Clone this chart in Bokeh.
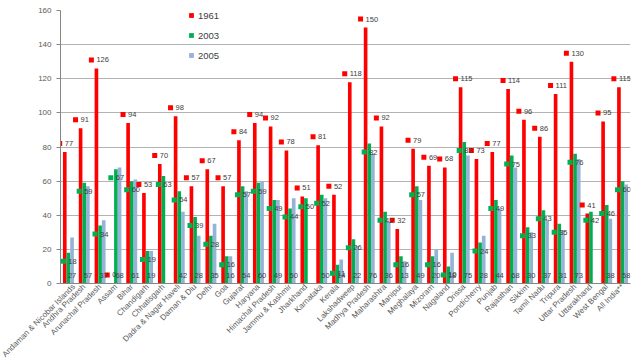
from bokeh.plotting import figure
from bokeh.models import ColumnDataSource, Legend, LegendItem, SingleIntervalTicker, Range1d
from bokeh.transform import dodge
from bokeh.core.properties import value
from bokeh.embed import file_html
from bokeh.resources import INLINE
import math

states = ["Andaman & Nicobar Islands", "Andhra Pradesh", "Arunachal Pradesh", "Assam", "Bihar",
          "Chandigarh", "Chhatisgarh", "Dadra & Nagar Haveli", "Daman & Diu", "Delhi", "Goa",
          "Gujarat", "Haryana", "Himachal Pradesh", "Jammu & Kashmir", "Jharkhand", "Karnataka",
          "Kerala", "Lakshadweep", "Madhya Pradesh", "Maharashtra", "Manipur", "Meghalaya",
          "Mizoram", "Nagaland", "Orissa", "Pondicherry", "Punjab", "Rajasthan", "Sikkim",
          "Tamil Nadu", "Tripura", "Uttar Pradesh", "Uttarakhand", "West Bengal", "All India**"]
v1961 = [77, 91, 126, 0, 94, 53, 70, 98, 57, 67, 57, 84, 94, 92, 78, 51, 81, 52, 118, 150, 92, 32,
         79, 69, 68, 115, 73, 77, 114, 96, 86, 111, 130, 41, 95, 115]
v2003 = [18, 59, 34, 67, 60, 19, 63, 54, 39, 28, 16, 57, 59, 49, 44, 50, 52, 11, 26, 82, 42, 16,
         57, 16, 10, 83, 24, 49, 75, 33, 43, 35, 76, 42, 46, 60]
v2005 = [27, 57, 37, 68, 61, 19, 0, 42, 28, 35, 16, 54, 60, 49, 50, 0, 50, 14, 22, 76, 36, 13,
         49, 20, 18, 75, 28, 44, 68, 30, 37, 31, 73, 0, 38, 58]
years = ["1961", "2003", "2005"]
colors = ["#FF0000", "#00B050", "#95B3D7"]

FONT = "Liberation Sans"

src = ColumnDataSource(dict(
    cat=states, v1961=v1961, v2003=v2003, v2005=v2005,
    y1961=[v + 5 for v in v1961], y2003=[v - 5 for v in v2003],
    t1961=[str(v) for v in v1961], t2003=[str(v) for v in v2003],
    t2005=[str(v) if v else "" for v in v2005],
    zero=[0] * len(states),
))

p = figure(x_range=states, y_range=Range1d(0, 160), width=640, height=364,
           output_backend="svg", toolbar_location=None,
           min_border_left=60, min_border_top=10, min_border_right=10, min_border_bottom=80)

bw = 0.23
rs = []
for i, (yr, col) in enumerate(zip(years, colors)):
    r = p.vbar(x=dodge("cat", (i - 1) * bw, range=p.x_range), top="v" + yr, width=bw,
               source=src, fill_color=col, line_color=None)
    rs.append(r)

# 1961 labels: marker + text above bars
p.scatter(x=dodge("cat", -bw - 0.32, range=p.x_range), y="y1961", source=src,
          marker="square", size=5, fill_color="#FF0000", line_color=None)
p.text(x=dodge("cat", -bw - 0.32, range=p.x_range), y="y1961", text="t1961", source=src,
       x_offset=5, text_align="left", text_baseline="middle", text_font=value(FONT),
       text_font_size="7.5px", text_color="#404040")

# 2003 labels: marker + text just below bar tops
p.scatter(x=dodge("cat", -0.32, range=p.x_range), y="y2003", source=src,
          marker="square", size=5, fill_color="#00B050", line_color=None)
p.text(x=dodge("cat", -0.32, range=p.x_range), y="y2003", text="t2003", source=src,
       x_offset=5, text_align="left", text_baseline="middle", text_font=value(FONT),
       text_font_size="7.5px", text_color="#404040")

# 2005 labels: at the base
p.text(x=dodge("cat", bw, range=p.x_range), y="zero", text="t2005", source=src,
       y_offset=-8, text_align="center", text_baseline="middle", text_font=value(FONT),
       text_font_size="7.5px", text_color="#404040")

legend = Legend(items=[LegendItem(label=y, renderers=[r]) for y, r in zip(years, rs)],
                location=(128, 221), orientation="vertical",
                glyph_width=6, glyph_height=6, label_height=14, spacing=6, padding=0, margin=0,
                label_standoff=4, label_text_font=FONT, label_text_font_size="9.5px",
                label_text_color="#404040", border_line_color=None, background_fill_alpha=0)
p.add_layout(legend)

p.xgrid.visible = False
p.ygrid.grid_line_color = "#B3B3B3"
p.outline_line_color = None

p.yaxis.ticker = SingleIntervalTicker(interval=20)
p.yaxis.minor_tick_line_color = None
p.yaxis.major_tick_in = 0
p.yaxis.major_tick_out = 4
p.yaxis.major_label_text_font = FONT
p.yaxis.major_label_text_font_size = "8px"
p.yaxis.major_label_text_color = "#595959"
p.yaxis.axis_line_color = "#868686"
p.yaxis.major_tick_line_color = "#868686"

p.xaxis.major_label_orientation = math.pi / 4
p.xaxis.major_label_text_font = FONT
p.xaxis.major_label_text_font_size = "8px"
p.xaxis.major_label_text_color = "#595959"
p.xaxis.axis_line_color = "#868686"
p.xaxis.major_tick_line_color = None
p.xaxis.major_tick_in = 0
p.xaxis.major_tick_out = 0
p.xaxis.major_label_standoff = 2

open("out.html", "w").write(file_html(p, INLINE))
